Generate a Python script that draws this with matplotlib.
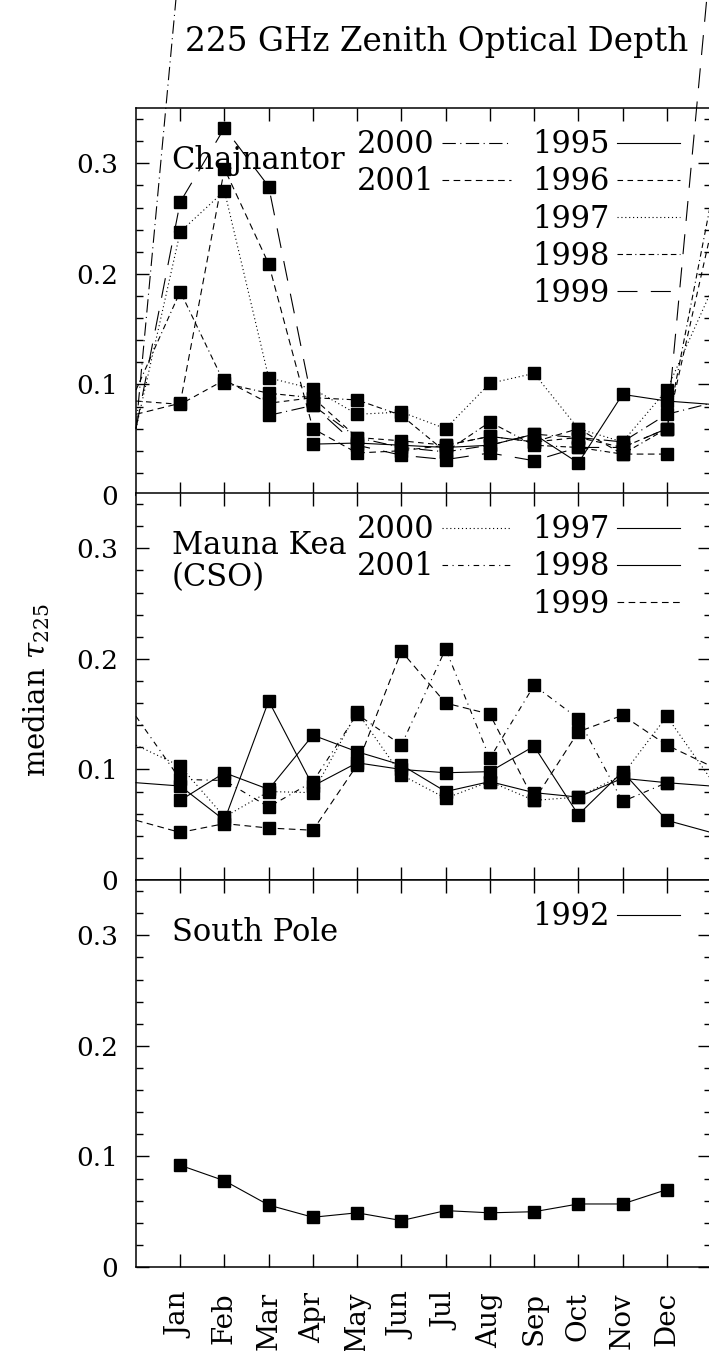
import numpy as np
import matplotlib
matplotlib.use('Agg')
import matplotlib.pyplot as plt
from matplotlib.ticker import MultipleLocator, FuncFormatter

plt.rcParams['font.family'] = 'DejaVu Serif'
plt.rcParams['mathtext.fontset'] = 'dejavuserif'

months = ['Jan', 'Feb', 'Mar', 'Apr', 'May', 'Jun',
          'Jul', 'Aug', 'Sep', 'Oct', 'Nov', 'Dec']
nan = np.nan

# Chajnantor, median tau_225 per month
chaj_1995 = [nan, nan, nan, 0.046, 0.047, 0.045, 0.043, 0.045, 0.055, 0.029, 0.091, 0.085]
chaj_1996 = [0.082, 0.104, 0.083, 0.088, 0.052, 0.049, 0.045, 0.053, 0.048, 0.052, 0.043, 0.060]
chaj_1997 = [0.238, 0.275, 0.106, 0.096, 0.073, 0.075, 0.060, 0.101, 0.110, 0.060, 0.048, 0.095]
chaj_1998 = [0.184, 0.101, 0.092, 0.088, 0.086, 0.072, 0.039, 0.066, 0.045, 0.043, 0.037, 0.060]
chaj_1999 = [0.265, 0.332, 0.279, 0.081, 0.045, 0.036, 0.032, 0.038, 0.031, 0.043, 0.043, 0.060]
chaj_2000 = [0.490, nan, 0.072, 0.081, 0.052, 0.043, 0.039, 0.045, 0.055, 0.052, 0.048, 0.073]
chaj_2001 = [0.083, 0.295, 0.209, 0.060, 0.038, 0.040, 0.045, 0.053, 0.048, 0.060, 0.037, 0.037]

# Mauna Kea (CSO)
mk_1997 = [0.072, 0.097, 0.082, 0.131, 0.116, 0.104, 0.080, 0.089, 0.079, 0.075, 0.092, 0.088]
mk_1998 = [0.085, 0.054, 0.162, 0.085, 0.106, 0.100, 0.097, 0.098, 0.121, 0.059, 0.098, 0.054]
mk_1999 = [0.043, 0.051, 0.047, 0.045, 0.104, 0.207, 0.160, 0.150, 0.072, 0.134, 0.149, 0.122]
mk_2000 = [0.103, 0.057, 0.080, 0.079, 0.152, 0.095, 0.074, 0.089, 0.072, 0.075, 0.095, 0.148]
mk_2001 = [0.091, 0.090, 0.066, 0.089, 0.150, 0.122, 0.209, 0.110, 0.176, 0.146, 0.071, 0.088]

# South Pole
sp_1992 = [0.092, 0.078, 0.056, 0.045, 0.049, 0.042, 0.051, 0.049, 0.050, 0.057, 0.057, 0.070]

styles = {
    '1992': '-', '1995': '-', '1996': (0, (5, 4)), '1997': (0, (1, 2.5)),
    '1998': (0, (5, 3, 5, 3, 1, 3)), '1999': (0, (18, 12)),
    '2000': (0, (12, 4, 1, 4)), '2001': (0, (6, 4)),
}
mk_styles = {
    '1997': '-', '1998': '-', '1999': (0, (6, 4)),
    '2000': (0, (1, 2.5)), '2001': (0, (5, 4, 1, 4)),
}

panels = [
    ('Chajnantor', {'1995': chaj_1995, '1996': chaj_1996, '1997': chaj_1997,
                    '1998': chaj_1998, '1999': chaj_1999, '2000': chaj_2000,
                    '2001': chaj_2001}, styles,
     [['2000', '2001'], ['1995', '1996', '1997', '1998', '1999']], True),
    ('Mauna Kea\n(CSO)', {'1997': mk_1997, '1998': mk_1998, '1999': mk_1999,
                          '2000': mk_2000, '2001': mk_2001}, mk_styles,
     [['2000', '2001'], ['1997', '1998', '1999']], True),
    ('South Pole', {'1992': sp_1992}, styles, [[], ['1992']], False),
]

W, H = 709, 1351
fig = plt.figure(figsize=(W / 100, H / 100), dpi=100)
left = 136 / W
width = 575 / W
tops = [108, 493, 880]
ph = 387

x = np.arange(1, 13)
axes = []
for (name, data, sty, legcols, wrap), top in zip(panels, tops):
    ax = fig.add_axes([left, (H - top - ph) / H, width, ph / H])
    axes.append(ax)
    years = list(data.keys())
    handles = {}
    for i, yr in enumerate(years):
        vals = np.array(data[yr], dtype=float)
        lead = nan
        tail = nan
        if wrap and i > 0:
            lead = data[years[i - 1]][11]
        if wrap and i < len(years) - 1:
            tail = data[years[i + 1]][0]
        xx = np.concatenate([[0], x, [13]])
        yy = np.concatenate([[lead], vals, [tail]])
        ln, = ax.plot(xx, yy, color='black', lw=0.8, linestyle=sty[yr],
                      clip_on=False, label=yr)
        ax.plot(x, vals, linestyle='none', marker='s', markersize=8.8,
                color='black', clip_on=True)
        handles[yr] = ln

    ax.set_xlim(0, 13)
    ax.set_ylim(0, 0.35)
    ax.set_xticks(x)
    ax.yaxis.set_major_locator(MultipleLocator(0.1))
    ax.yaxis.set_minor_locator(MultipleLocator(0.02))
    ax.yaxis.set_major_formatter(FuncFormatter(lambda v, _: '0' if abs(v) < 1e-9 else f'{v:.1f}'))
    ax.tick_params(which='both', direction='in', top=True, right=True, width=1)
    ax.tick_params(which='major', length=9.5)
    ax.tick_params(which='minor', length=5)
    ax.tick_params(axis='y', labelsize=19, pad=13)
    for s in ax.spines.values():
        s.set_linewidth(1.1)

    ax.text(0.062, 0.905, name, transform=ax.transAxes, fontsize=22,
            va='top', ha='left', linespacing=1.05)

    # legend columns, text left of the line sample
    if legcols[0]:
        lg = ax.legend([handles[k] for k in legcols[0]], legcols[0],
                       loc='upper right', bbox_to_anchor=(0.652, 0.945),
                       frameon=False, markerfirst=False, fontsize=22,
                       handlelength=2.25, handletextpad=0.25,
                       labelspacing=0.2, borderaxespad=0, borderpad=0)
        ax.add_artist(lg)
    ax.legend([handles[k] for k in legcols[1]], legcols[1],
              loc='upper right', bbox_to_anchor=(0.946, 0.945),
              frameon=False, markerfirst=False, fontsize=22,
              handlelength=2.05, handletextpad=0.25,
              labelspacing=0.2, borderaxespad=0, borderpad=0)

for ax in axes[:-1]:
    ax.set_xticklabels([])
axes[-1].set_xticklabels(months, rotation=90, fontsize=20)
axes[-1].tick_params(axis='x', pad=18)

fig.text(437 / W, 1 - 42 / H, '225 GHz Zenith Optical Depth',
         ha='center', va='center', fontsize=23.5)
fig.text(37 / W, 1 - 690 / H, r'median $\tau_{225}$', rotation=90,
         ha='center', va='center', fontsize=21)

fig.savefig('out.png', dpi=100)
